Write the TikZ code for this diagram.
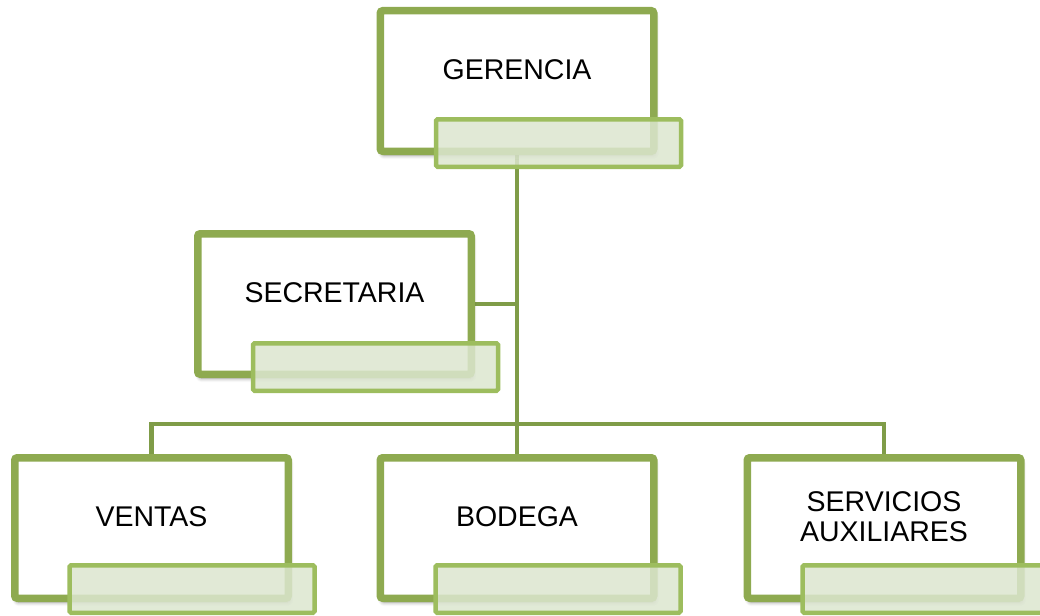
\documentclass[tikz,border=0pt]{standalone}
\usepackage{fontspec}
\setmainfont{Liberation Sans}
\usetikzlibrary{shadows.blur,calc}
\definecolor{frame}{HTML}{8EAA50}
\definecolor{tagline}{HTML}{9DBD5E}
\definecolor{tagfill}{HTML}{DCE6CF}
\definecolor{link}{HTML}{7F9C48}
\pgfdeclarelayer{links}
\pgfsetlayers{links,main}
\begin{document}
\begin{tikzpicture}[x=1pt,y=-1pt,
  unit/.style={draw=frame, line width=7.5pt, fill=white, rounded corners=2.5pt,
    minimum width=273.5pt, minimum height=140.5pt, inner sep=0pt,
    blur shadow={shadow xshift=1.5pt, shadow yshift=-4pt, shadow blur steps=8,
      shadow blur radius=4pt, shadow opacity=40}},
  caption/.style={font=\fontsize{28.5}{30}\selectfont, align=center, inner sep=0pt, yshift=11pt},
  tag/.style={draw=tagline, line width=4.5pt, fill=tagfill, fill opacity=0.85,
    rounded corners=1.5pt, minimum width=245pt, minimum height=47.5pt, inner sep=0pt},
  link/.style={draw=link, line width=4.5pt}]
  \useasboundingbox (0,0) rectangle (1040,615);

  % boxes
  \node[unit, label={[caption]center:GERENCIA}] (ger) at (517,81) {};
  \node[unit, label={[caption]center:SECRETARIA}] (sec) at (334.5,304) {};
  \node[unit, label={[caption]center:VENTAS}] (ven) at (151.5,528) {};
  \node[unit, label={[caption]center:BODEGA}] (bod) at (517,528) {};
  \node[unit, label={[caption]center:SERVICIOS\\AUXILIARES}] (ser) at (884,528) {};

  % connectors, kept behind the boxes
  \coordinate (bus) at (517,424);
  \begin{pgfonlayer}{links}
    \draw[link] (ger.south) -- (bod.north);
    \draw[link] (sec.east) -- (sec.east -| ger.south);
    \draw[link] (ven.north) |- (bus) -| (ser.north);
  \end{pgfonlayer}

  % text strips
  \node[tag] (gertag) at ($(ger.center)+(41.5,62)$) {};
  \node[tag] (sectag) at ($(sec.center)+(41,63)$) {};
  \node[tag] (ventag) at ($(ven.center)+(40.5,61)$) {};
  \node[tag] (bodtag) at ($(bod.center)+(41,61)$) {};
  \node[tag] (sertag) at ($(ser.center)+(41,61)$) {};
\end{tikzpicture}
\end{document}
